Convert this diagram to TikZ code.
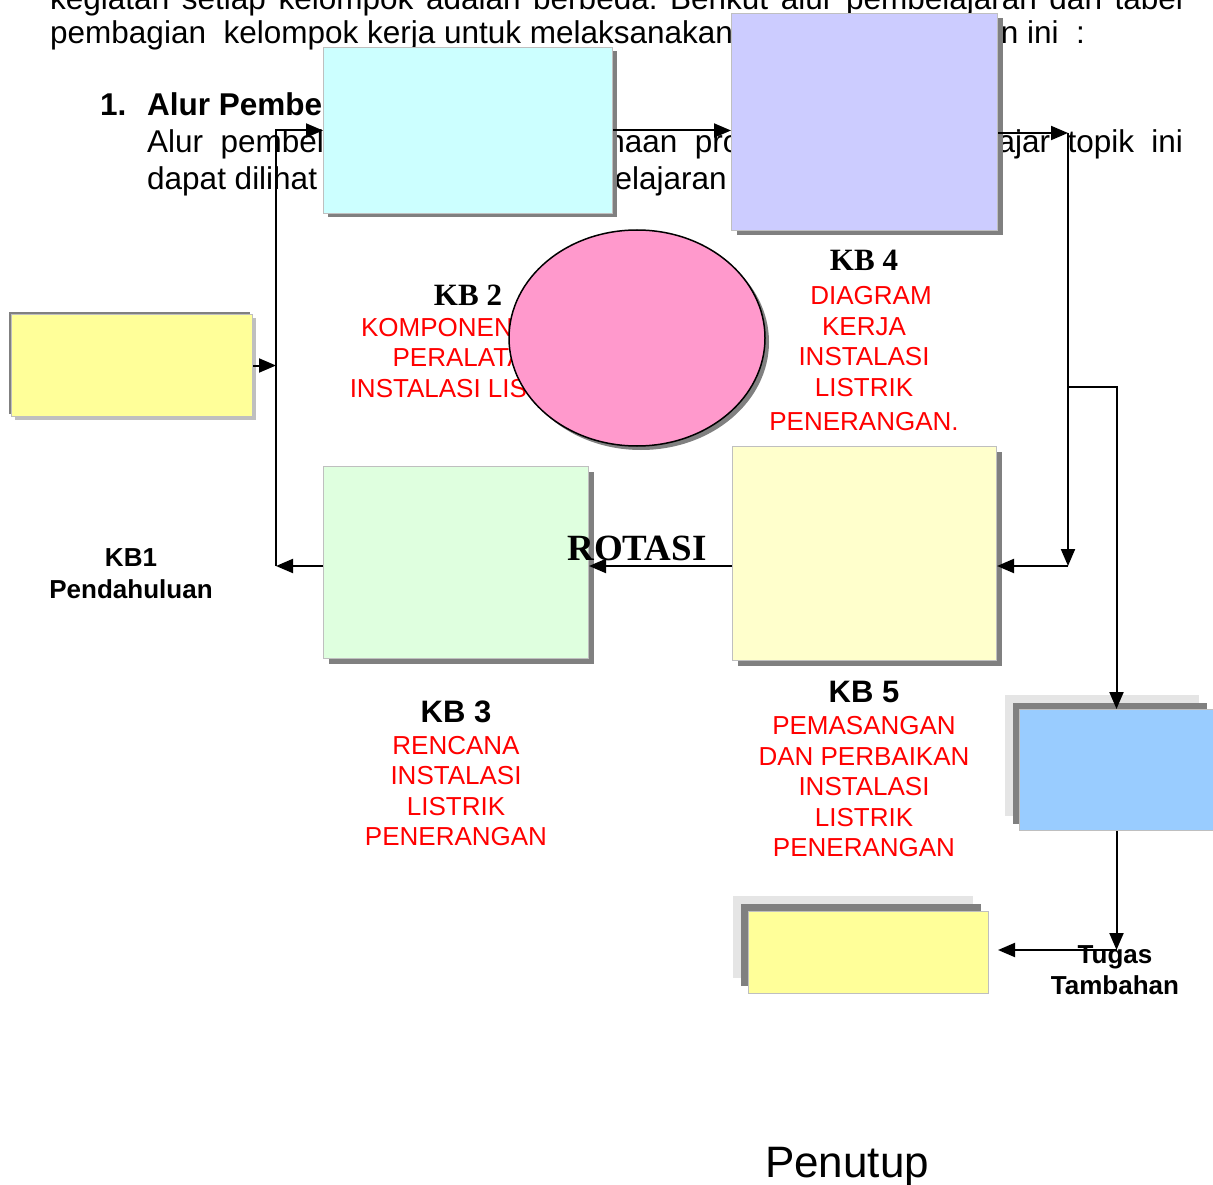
\documentclass[tikz,border=0pt]{standalone}
\usepackage{fontspec}
\setmainfont{Liberation Sans}
\newfontfamily\hurufserif{Liberation Serif}
\usepackage{tikz}
\usepackage{xcolor}
\usetikzlibrary{arrows.meta,shapes.geometric,shadows}
\frenchspacing

\definecolor{merah}{RGB}{255,0,0}
\definecolor{cyanmuda}{RGB}{204,255,255}
\definecolor{ungumuda}{RGB}{204,204,255}
\definecolor{merahmuda}{RGB}{255,153,204}
\definecolor{kuning}{RGB}{255,255,153}
\definecolor{hijaumuda}{RGB}{223,255,223}
\definecolor{kuningmuda}{RGB}{255,255,204}
\definecolor{birulangit}{RGB}{153,204,255}

\newcommand\hurufbadan{\fontsize{31.5}{37}\selectfont}

\tikzset{
  kotak/.style={draw=gray!50, line width=1pt, inner sep=0pt, anchor=north west},
  bayang/.style={general shadow={fill=black!50, shadow xshift=#1, shadow yshift=-#1}},
  bayangdua/.style 2 args={general shadow={fill=black!10, shadow xshift=-#2, shadow yshift=#2},
    general shadow={fill=black!50, shadow xshift=-#1, shadow yshift=#1}},
  panah/.style={-{Triangle[length=17pt,width=14pt]}, line width=2pt},
  teks/.style={anchor=base west, inner sep=0pt, font=\hurufbadan},
  judul/.style={inner sep=0pt, font=\fontsize{31}{36}\selectfont\bfseries},
  ket/.style={inner sep=0pt, text=merah, align=center, font=\fontsize{26}{30.5}\selectfont},
}

\begin{document}
\begin{tikzpicture}[x=1pt, y=-1pt]
\useasboundingbox (0,0) rectangle (1213,1185);

% paragraf di belakang bagan
\node[teks] (baris1) at (50,10) {\makebox[1133pt][s]{kegiatan setiap kelompok adalah berbeda. Berikut alur pembelajaran dan tabel}};
\node[teks] (baris2) at (50,44) {pembagian\ \ kelompok kerja untuk melaksanakan tugas pembelajaran ini\ \ :};
\node[teks, font=\hurufbadan\bfseries] (nomor) at (100,116) {1.};
\node[teks, font=\hurufbadan\bfseries] (subjudul) at (147,116) {Alur Pembelajaran};
\node[teks] (baris4) at (147,153) {\makebox[1036pt][s]{Alur pembelajaran dan pelaksanaan proses belajar mengajar topik ini}};
\node[teks] (baris5) at (147,190) {dapat dilihat pada\ \ diagram pembelajaran berikut ini.};

% KB 2 (sebagian tertutup lingkaran)
\node[judul, font=\hurufserif\fontsize{31}{36}\selectfont\bfseries] (judulkb2) at (468,295) {KB 2};
\node[ket] (isikb2) at (468,358) {KOMPONEN DAN\\PERALATAN\\INSTALASI LISTRIK};

% kotak-kotak
\node[kotak, bayang=4pt, fill=cyanmuda, minimum width=289pt, minimum height=166pt] (kbdua) at (323,47) {};
\node[kotak, bayang=5pt, fill=ungumuda, minimum width=266pt, minimum height=217pt] (kbempat) at (731,13) {};
\node[ellipse, draw, line width=1.5pt, bayang=4pt, fill=merahmuda, inner sep=0pt,
  minimum width=256pt, minimum height=216pt] (rotasi) at (637,338) {};
\node[kotak, general shadow={fill=black!25, shadow xshift=3pt, shadow yshift=-3pt},
  general shadow={fill=black!50, shadow xshift=-3pt, shadow yshift=3pt},
  fill=kuning, minimum width=241pt, minimum height=102pt] (kbsatu) at (11,314) {};
\node[kotak, bayang=5pt, fill=hijaumuda, minimum width=265pt, minimum height=192pt] (kbtiga) at (323,466) {};
\node[kotak, bayang=5pt, fill=kuningmuda, minimum width=264pt, minimum height=214pt] (kblima) at (732,446) {};
\node[kotak, bayangdua={7pt}{15pt}, fill=birulangit, minimum width=194pt, minimum height=121pt] (tugas) at (1019,709) {};
\node[kotak, bayangdua={8pt}{16pt}, fill=kuning, minimum width=240pt, minimum height=82pt] (penutup) at (748,911) {};

% titik bantu jalur
\coordinate (kiri) at (276,566);
\coordinate (kanan) at (1068,133);
\coordinate (cabang) at (1068,387);
\coordinate (ujung) at (1116,950);

% panah
\draw[panah] (kbsatu.east) -- (kbsatu.east -| kiri);
\draw[panah] (kbtiga.west |- kiri) -- (kiri);
\draw[panah] (kiri) -- (kiri |- kbdua.west) -- (kbdua.west);
\draw[panah] (kbdua.east) -- (kbdua.east -| kbempat.west);
\draw[panah] (kbempat.east |- kanan) -- (kanan);
\draw[panah] (kanan) -- (kanan |- kiri);
\draw[panah] (kanan |- kiri) -- (kblima.east |- kiri);
\draw[panah] (kblima.west |- kiri) -- (kbtiga.east |- kiri);
\draw[panah] (cabang) -- (cabang -| tugas.north) -- (tugas.north);
\draw[panah] (tugas.south) -- (tugas.south |- ujung);
\draw[panah] (tugas.south |- ujung) -- ([xshift=9pt]penutup.east |- ujung);

% label
\node[judul, font=\hurufserif\fontsize{37}{42}\selectfont\bfseries] (labelrotasi) at (637,548) {ROTASI};
\node[judul, font=\hurufserif\fontsize{31}{36}\selectfont\bfseries] (judulkb4) at (864,260) {KB 4};
\node[ket] (isikb4) at (864,359) {\hspace*{14pt}DIAGRAM\\KERJA\\INSTALASI\\LISTRIK\\[4pt]PENERANGAN.};
\node[judul, align=center, font=\fontsize{26}{32}\selectfont\bfseries] (labelkb1) at (131,574) {KB1\\Pendahuluan};
\node[judul] (judulkb3) at (456,712) {KB 3};
\node[ket] (isikb3) at (456,791) {RENCANA\\INSTALASI\\LISTRIK\\PENERANGAN};
\node[judul] (judulkb5) at (864,692) {KB 5};
\node[ket] (isikb5) at (864,787) {PEMASANGAN\\DAN PERBAIKAN\\INSTALASI\\LISTRIK\\PENERANGAN};
\node[judul, align=center, font=\fontsize{26}{31}\selectfont\bfseries] (labeltugas) at (1115,970) {Tugas\\Tambahan};
\node[anchor=base, inner sep=0pt, font=\fontsize{44}{50}\selectfont] (labelpenutup) at (847,1177) {Penutup};
\end{tikzpicture}
\end{document}
